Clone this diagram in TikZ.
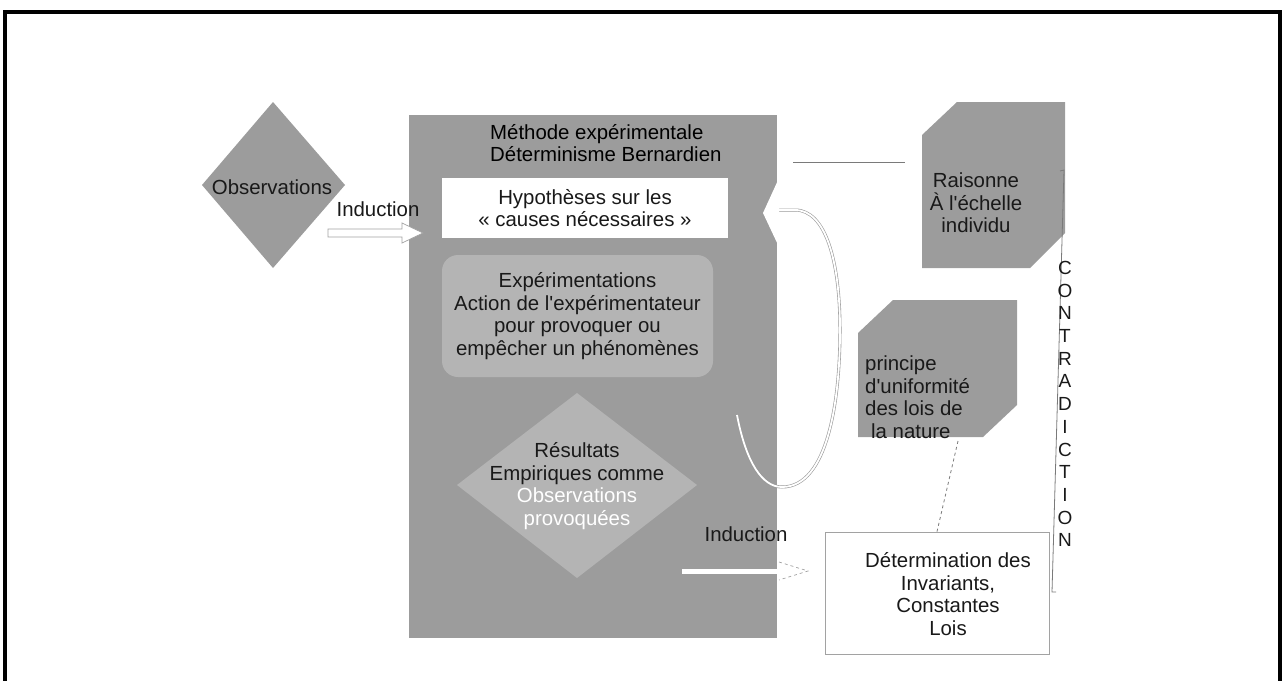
\documentclass[tikz,border=0pt]{standalone}
\usepackage{fontspec}
\newfontfamily\lsans{Liberation Sans}
\usepackage{tikz}

\definecolor{darkgrey}{HTML}{9C9C9C}
\definecolor{lightgrey}{HTML}{B4B4B4}
\definecolor{linegrey}{HTML}{7A7A7A}

\tikzset{
  txt/.style={inner sep=0pt, align=center, text=black!90, font=\lsans\fontsize{20.4}{22.5}\selectfont},
  whitebox/.style={txt, fill=white},
  lightbox/.style={txt, fill=lightgrey, rounded corners=16},
  detbox/.style={draw=linegrey!70, line width=0.8, fill=white, inner sep=0pt},
}

\begin{document}
\begin{tikzpicture}[x=1pt,y=1pt,yscale=-1,xscale=1]
\clip (0,0) rectangle (1282,680);
%Frame
\draw [line width=4] (4.5,700) -- (4.5,12) -- (1279.5,12) -- (1279.5,700);
%Left part
\fill [darkgrey] (409,115) rectangle (777,638);
\fill [darkgrey] (202,185) -- (273,102) -- (345,185) -- (273,268) -- cycle;
\node [txt] (obs) at (272,187) {Observations};
\node [txt] (ind1) at (378,209) {Induction};
\coordinate (a1) at (328,233);
\coordinate (a2) at (423,233);
\filldraw [fill=white, draw=linegrey!70, line width=0.7] (a1) ++(0,-4) -- ++(74,0) -- ++(0,-6) -- (a2) -- ++(-21,10) -- ++(0,-6) -- ++(-74,0) -- cycle;
%Method block
\node [txt, align=left, anchor=west, text=black] (methode) at (490,143) {Méthode expérimentale\\Déterminisme Bernardien};
\node [whitebox, minimum width=286, minimum height=60] (hyp) at (585,208) {Hypothèses sur les\\« causes nécessaires »};
\node [lightbox, minimum width=271, minimum height=122] (exp) at (577.5,316) {Expérimentations\\Action de l'expérimentateur\\pour provoquer ou\\empêcher un phénomènes};
\fill [lightgrey] (457,485) -- (577,393) -- (697,485) -- (577,578) -- cycle;
\node [txt] (res) at (577,486) {Résultats\\Empiriques comme\\\textcolor{white}{Observations}\\\textcolor{white}{provoquées}};
%Loop
\draw [draw=black!40, double=white, double distance=1.8, line width=0.6] (737,415) .. controls (746,462) and (762,487) .. (782,487) .. controls (828,487) and (840,400) .. (840,330) .. controls (840,262) and (826,210) .. (795,210) -- (778,210);
\fill [white] (763,213) -- (779,178) -- (779,247) -- cycle;
%Induction to laws
\node [txt] (ind2) at (746,534) {Induction};
\coordinate (b1) at (682,571);
\coordinate (b2) at (808,571);
\draw [white, line width=5] (b1) -- (781,571);
\draw [linegrey!70, dashed, line width=0.7] (779,562) -- (b2) -- (779,580);
%Right part
\coordinate (l1) at (793,162);
\coordinate (l2) at (905,162);
\draw [linegrey, line width=0.8] (l1) -- (l2);
\fill [darkgrey] (922,135) -- (957,102) -- (1065,102) -- (1065,233) -- (1030,268) -- (922,268) -- cycle;
\node [txt] (raison) at (976,203) {Raisonne\\À l'échelle\\individu};
\fill [darkgrey] (858,333) -- (893,300) -- (1017,300) -- (1017,405) -- (983,437) -- (858,437) -- cycle;
\node [txt, align=left, anchor=west] (princ) at (865,397) {principe\\d'uniformité\\des lois de\\\hspace*{6pt}la nature};
\node [detbox, minimum width=224, minimum height=122] (det) at (937,593) {};
\node [txt] (dettxt) at (948,594) {Détermination des\\Invariants,\\Constantes\\Lois};
\coordinate (pb) at (958,441);
\draw [linegrey, dashed, line width=0.8] (pb) -- (det.north);
%Contradiction
\coordinate (c1) at (1064,170);
\coordinate (c2) at (1052,592);
\draw [linegrey, line width=0.8] (1060,171) -- (c1) -- (c2) -- (1056,592);
\node [txt, font=\lsans\fontsize{19}{22.7}\selectfont] (contra) at (1065,404) {C\\O\\N\\T\\R\\A\\D\\I\\C\\T\\I\\O\\N};
\end{tikzpicture}
\end{document}
